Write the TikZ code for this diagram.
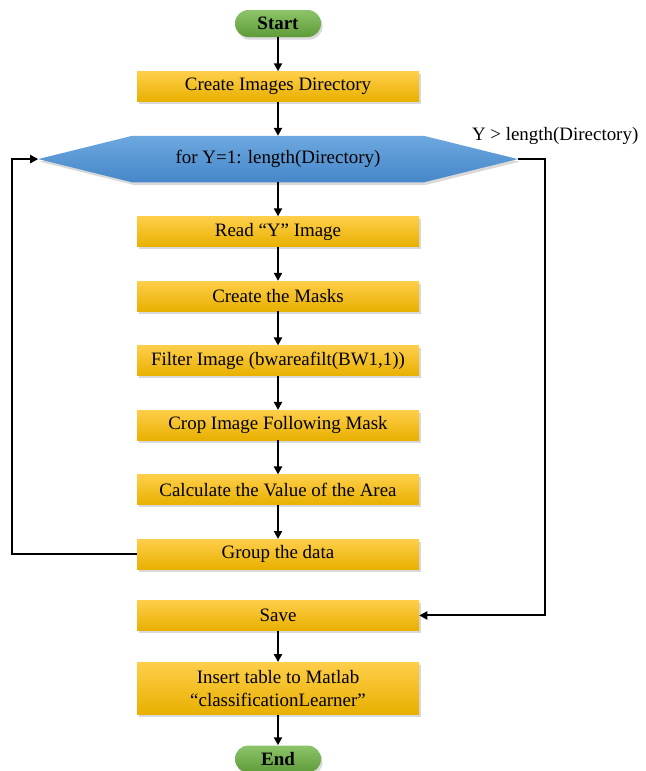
\documentclass[tikz,border=0pt]{standalone}
\usepackage{fontspec}
\setmainfont{Liberation Serif}
\usetikzlibrary{positioning,shadows,arrows.meta,calc,backgrounds}

\begin{document}
\begin{tikzpicture}[x=0.75pt,y=0.75pt,font=\fontsize{14.2}{17}\selectfont,node distance=25.5pt]
    % Colors
    \definecolor{boxtop}{HTML}{FFCE4A}
    \definecolor{boxmid}{HTML}{FFC000}
    \definecolor{boxbot}{HTML}{E8B000}
    \definecolor{termtop}{HTML}{8DC46A}
    \definecolor{termbot}{HTML}{5E9B38}
    \definecolor{looptop}{HTML}{6DA8DF}
    \definecolor{loopbot}{HTML}{4687C9}

    % Styles
    \tikzstyle{shade}=[drop shadow={shadow xshift=1.2pt,shadow yshift=-2pt,opacity=0.3}]
    \tikzstyle{process}=[rectangle,minimum width=211.5pt,minimum height=22.5pt,inner sep=2pt,
      align=center,top color=boxtop,middle color=boxmid,bottom color=boxbot,style=shade]
    \tikzstyle{terminal}=[rectangle,rounded corners=10pt,minimum width=64.5pt,minimum height=20.25pt,
      inner sep=1pt,font=\fontsize{14.2}{17}\selectfont\bfseries,
      top color=termtop,bottom color=termbot,style=shade]
    \tikzstyle{flow}=[-{Triangle[length=6pt,width=6pt]},line width=1.5pt]

    \useasboundingbox (0,0) rectangle (646,-771);

    % The graphic
    \node[terminal] (start) at (278,-23.5) {Start};
    \node[process,below=of start] (dir) {Create Images Directory};
    \node[minimum width=218.25pt,minimum height=34.5pt,inner sep=0pt,below=of dir] (loop)
      {for Y=1: length(Directory)};
    \coordinate (loopW) at ($(loop.west)+(-94,0)$);
    \coordinate (loopE) at ($(loop.east)+(94,0)$);
    \begin{scope}[on background layer]
      \path[top color=looptop,bottom color=loopbot,style=shade]
        (loopW) -- (loop.north west) -- (loop.north east) -- (loopE)
        -- (loop.south east) -- (loop.south west) -- cycle;
    \end{scope}

    \node[process,below=of loop] (read) {Read “Y” Image};
    \node[process,below=of read] (masks) {Create the Masks};
    \node[process,below=of masks] (filter) {Filter Image (bwareafilt(BW1,1))};
    \node[process,below=of filter] (crop) {Crop Image Following Mask};
    \node[process,below=of crop] (area) {Calculate the Value of the Area};
    \node[process,below=of area] (group) {Group the data};
    \node[process,below=23pt of group] (save) {Save};
    \node[process,minimum height=39pt,below=23.5pt of save] (insert)
      {Insert table to Matlab\\“classificationLearner”};
    \node[terminal,below=23pt of insert] (end) {End};

    \node[anchor=base east] (exitlabel) at (643,-140) {Y > length(Directory)};

    \coordinate (backX) at (12,0);
    \coordinate (exitX) at (545,0);

    % Connectors
    \draw[flow] (start) -- (dir);
    \draw[flow] (dir) -- (loop.north);
    \draw[flow] (loop.south) -- (read);
    \draw[flow] (read) -- (masks);
    \draw[flow] (masks) -- (filter);
    \draw[flow] (filter) -- (crop);
    \draw[flow] (crop) -- (area);
    \draw[flow] (area) -- (group);
    \draw[flow] (save) -- (insert);
    \draw[flow] (insert) -- (end);
    \draw[flow] (group.west) -- (group.west -| backX) |- (loopW);
    \draw[flow] (loopE) -- (loopE -| exitX) |- (save.east);
\end{tikzpicture}
\end{document}
